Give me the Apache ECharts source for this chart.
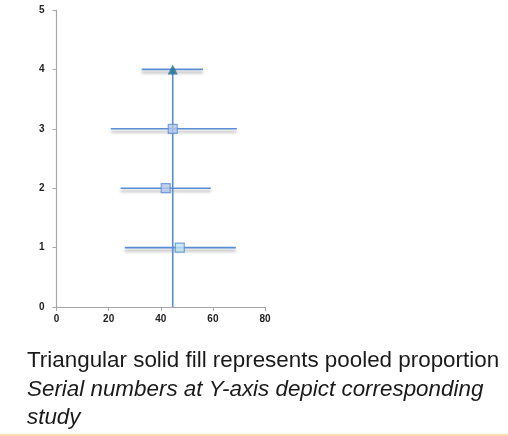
<!DOCTYPE html>
<html><head><meta charset="utf-8">
<script src="https://cdn.jsdelivr.net/npm/echarts@6/dist/echarts.min.js"></script>
<style>html,body{margin:0;padding:0;background:#fff}#c{width:508px;height:436px}</style>
</head><body><div id="c"></div>
<script>
// study serial numbers (y) and estimates
const studies = [1, 2, 3, 4];
const estimates = [47.3, 41.9, 44.6, 44.6];
const lowerCI = [26.2, 24.6, 20.8, 32.7];
const upperCI = [68.8, 59.2, 69.2, 56.2];
const pooled = 44.6;
const xTicks = [0, 20, 40, 60, 80];
const yTicks = [0, 1, 2, 3, 4, 5];
const captionLines = ['Triangular solid fill represents pooled proportion', 'Serial numbers at Y-axis depict corresponding', 'study'];

const chart = echarts.init(document.getElementById('c'));
const lineColor = '#5a8ed4';
const series = [];
studies.forEach((s, i) => {
  series.push({
    type: 'line', data: [[lowerCI[i], s], [upperCI[i], s]], symbol: 'none', silent: true,
    lineStyle: { color: lineColor, width: 1.6, shadowColor: 'rgba(0,0,0,0.35)', shadowBlur: 3, shadowOffsetY: 3 },
    z: 2
  });
});
series.push({
  type: 'line', data: [[pooled, 0], [pooled, 4]], symbol: 'none', silent: true,
  lineStyle: { color: lineColor, width: 1.6 }, z: 3
});
const fills = ['#bfe3ef', '#b3c6ea', '#b3c6ea'];
series.push({
  type: 'scatter', symbol: 'rect', symbolSize: 9, z: 4,
  data: studies.slice(0, 3).map((s, i) => ({ value: [estimates[i], s], itemStyle: { color: fills[i], borderColor: lineColor, borderWidth: 1.2 } }))
});
series.push({
  type: 'scatter', symbol: 'triangle', symbolSize: 10, z: 5,
  data: [[estimates[3], studies[3]]], itemStyle: { color: '#1f6f93' }
});

const capFont = '"Liberation Sans", Arial, sans-serif';
chart.setOption({
  animation: false,
  grid: { left: 56.5, right: 243, top: 10, bottom: 129 },
  xAxis: {
    type: 'value', min: 0, max: 80, interval: 20,
    axisLine: { show: true, lineStyle: { color: '#a6a6a6', width: 1.2 } },
    axisTick: { show: true, length: 4, lineStyle: { color: '#a6a6a6' } },
    axisLabel: { color: '#222', fontSize: 10, fontWeight: 'bold', fontFamily: 'Liberation Sans', margin: 7,
      formatter: v => xTicks.includes(v) ? String(v) : '' },
    splitLine: { show: false }
  },
  yAxis: {
    type: 'value', min: 0, max: 5, interval: 1,
    axisLine: { show: true, lineStyle: { color: '#a6a6a6', width: 1.2 } },
    axisTick: { show: true, length: 4, lineStyle: { color: '#a6a6a6' } },
    axisLabel: { color: '#222', fontSize: 10, fontWeight: 'bold', fontFamily: 'Liberation Sans', margin: 12,
      formatter: v => yTicks.includes(v) ? String(v) : '' },
    splitLine: { show: false }
  },
  series: series,
  graphic: [
    { type: 'text', left: 27, top: 350, style: { text: captionLines[0], font: '22.4px ' + capFont, fill: '#1a1a1a' } },
    { type: 'text', left: 27, top: 379, style: { text: captionLines[1], font: 'italic 22.4px ' + capFont, fill: '#1a1a1a' } },
    { type: 'text', left: 27, top: 407, style: { text: captionLines[2], font: 'italic 22.4px ' + capFont, fill: '#1a1a1a' } },
    { type: 'rect', shape: { x: 0, y: 434, width: 508, height: 2 }, style: { fill: '#fbd9ac' } }
  ]
});
</script></body></html>
